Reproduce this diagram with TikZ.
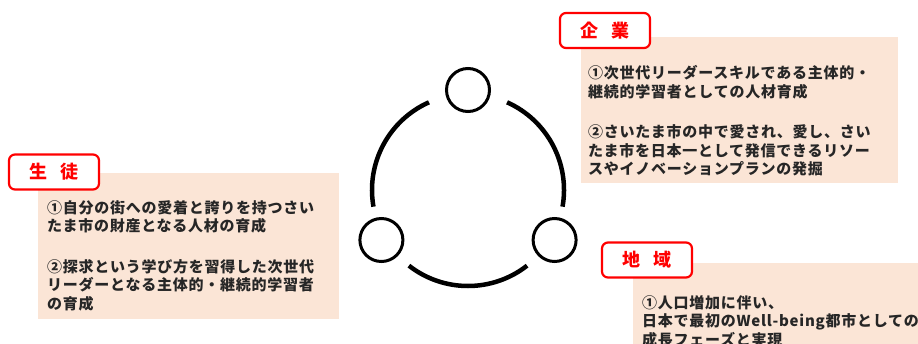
\documentclass[tikz,border=0pt]{standalone}
\usepackage{fontspec}
\newfontfamily\jp[LetterSpace=5]{Noto Sans CJK JP}
\newfontfamily\jplabel{Noto Sans CJK JP}
\definecolor{boxfill}{HTML}{FBE5D6}
\definecolor{tagred}{HTML}{FF0000}
\definecolor{textdark}{HTML}{262626}
\begin{document}
\begin{tikzpicture}[x=1pt,y=-1pt]
\tikzset{
  infobox/.style={fill=boxfill, draw=none, anchor=north west, inner sep=0},
  tag/.style={draw=tagred, line width=2.2pt, fill=white, rounded corners=6pt, text=tagred,
    font=\jplabel\bfseries\fontsize{18}{20}\selectfont, inner sep=0,
    minimum width=90pt, minimum height=35pt},
  bodytext/.style={anchor=north west, inner sep=0, align=left, text=textdark,
    font=\jp\bfseries\fontsize{15}{18.7}\selectfont},
  ring/.style={line width=4.5pt},
  hub/.style={circle, draw, line width=3pt, minimum size=43pt, inner sep=0}
}
\useasboundingbox (0,0) rectangle (918,343);

% boxes
\node[infobox, minimum width=317pt, minimum height=146pt] (kbox) at (581,37) {};
\node[infobox, minimum width=301pt, minimum height=146pt] (sbox) at (38,173) {};
\node[infobox, minimum width=290pt, minimum height=90pt] (cbox) at (633,263) {};

% texts
\node[bodytext] (ktext) at (588,65) {①次世代リーダースキルである主体的・\\
継続的学習者としての人材育成\\[21.8pt]
②さいたま市の中で愛され、愛し、さい\\
たま市を日本一として発信できるリソー\\
スやイノベーションプランの発掘};
\node[bodytext] (stext) at (47,200) {①自分の街への愛着と誇りを持つさい\\
たま市の財産となる人材の育成\\[21.8pt]
②探求という学び方を習得した次世代\\
リーダーとなる主体的・継続的学習者\\
の育成};
\node[bodytext] (ctext) at (642,295) {①人口増加に伴い、\\
日本で最初のWell-being都市としての\\
成長フェーズと実現};

% tags
\node[tag] (ktag) at (605,30.5) {企\hspace{0.75em}業};
\node[tag] (stag) at (54,172) {生\hspace{0.75em}徒};
\node[tag] (ctag) at (647,260) {地\hspace{0.75em}域};

% ring
\coordinate (c) at (468,190);
\draw[ring] ([shift={(114:96pt)}]c) arc[start angle=114, end angle=190, radius=96pt];
\draw[ring] ([shift={(-10:96pt)}]c) arc[start angle=-10, end angle=66, radius=96pt];
\draw[ring] ([shift={(232:96pt)}]c) arc[start angle=232, end angle=308, radius=96pt];
\node[hub] (htop) at ([shift={(90:100pt)}]c) {};
\node[hub] (hleft) at ([shift={(210:100pt)}]c) {};
\node[hub] (hright) at ([shift={(330:100pt)}]c) {};
\end{tikzpicture}
\end{document}
